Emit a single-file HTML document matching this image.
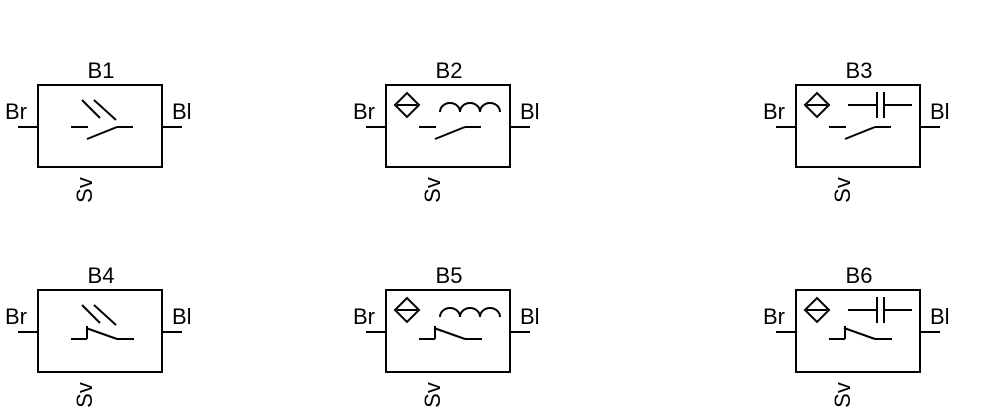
<!DOCTYPE html>
<html><head><meta charset="utf-8"><style>
html,body{margin:0;padding:0;background:#fff;}
svg{display:block;}
</style></head><body>
<svg width="988" height="417" viewBox="0 0 988 417" xmlns="http://www.w3.org/2000/svg" font-family="Liberation Sans, Arial, sans-serif" font-size="22">
<defs>
<g id="frame" fill="none" stroke="#000" stroke-width="2">
  <rect x="0" y="0" width="124" height="82"/>
  <line x1="-20" y1="42" x2="0" y2="42"/>
  <line x1="124" y1="42" x2="144" y2="42"/>
</g>
<g id="diamond" fill="none" stroke="#000" stroke-width="2">
  <polygon points="21,8 33,20 21,32 9,20"/>
  <line x1="11" y1="20" x2="31" y2="20"/>
</g>
<g id="sw1" fill="none" stroke="#000" stroke-width="2">
  <line x1="33" y1="42" x2="50" y2="42"/>
  <line x1="49" y1="54" x2="79" y2="42"/>
  <line x1="79" y1="42" x2="95" y2="42"/>
</g>
<g id="sw2" fill="none" stroke="#000" stroke-width="2">
  <line x1="33" y1="49" x2="49" y2="49"/>
  <line x1="49" y1="49" x2="49" y2="36"/>
  <line x1="48" y1="38" x2="79" y2="49"/>
  <line x1="79" y1="49" x2="96" y2="49"/>
</g>
<g id="slash" fill="none" stroke="#000" stroke-width="2">
  <line x1="44" y1="15" x2="62" y2="33"/>
  <line x1="56" y1="15" x2="78" y2="35"/>
</g>
<g id="coil" fill="none" stroke="#000" stroke-width="2">
  <path d="M54 27 A10 9 0 0 1 74 27 A10 9 0 0 1 94 27 A10 9 0 0 1 114 27"/>
</g>
<g id="cap" fill="none" stroke="#000" stroke-width="2">
  <line x1="52" y1="20" x2="81" y2="20"/>
  <line x1="81" y1="7" x2="81" y2="33"/>
  <line x1="88" y1="7" x2="88" y2="33"/>
  <line x1="88" y1="20" x2="116" y2="20"/>
</g>
</defs>

<g transform="translate(38,85)">
  <use href="#frame"/><use href="#sw1"/><use href="#slash"/>
  <text x="63" y="-7" text-anchor="middle">B1</text>
  <text x="-33" y="34">Br</text><text x="134" y="34">Bl</text>
  <text transform="translate(54,105) rotate(-90)" text-anchor="middle">Sv</text>
</g>
<g transform="translate(386,85)">
  <use href="#frame"/><use href="#sw1"/><use href="#diamond"/><use href="#coil"/>
  <text x="63" y="-7" text-anchor="middle">B2</text>
  <text x="-33" y="34">Br</text><text x="134" y="34">Bl</text>
  <text transform="translate(54,105) rotate(-90)" text-anchor="middle">Sv</text>
</g>
<g transform="translate(796,85)">
  <use href="#frame"/><use href="#sw1"/><use href="#diamond"/><use href="#cap"/>
  <text x="63" y="-7" text-anchor="middle">B3</text>
  <text x="-33" y="34">Br</text><text x="134" y="34">Bl</text>
  <text transform="translate(54,105) rotate(-90)" text-anchor="middle">Sv</text>
</g>

<g transform="translate(38,290)">
  <use href="#frame"/><use href="#sw2"/><use href="#slash"/>
  <text x="63" y="-7" text-anchor="middle">B4</text>
  <text x="-33" y="34">Br</text><text x="134" y="34">Bl</text>
  <text transform="translate(54,105) rotate(-90)" text-anchor="middle">Sv</text>
</g>
<g transform="translate(386,290)">
  <use href="#frame"/><use href="#sw2"/><use href="#diamond"/><use href="#coil"/>
  <text x="63" y="-7" text-anchor="middle">B5</text>
  <text x="-33" y="34">Br</text><text x="134" y="34">Bl</text>
  <text transform="translate(54,105) rotate(-90)" text-anchor="middle">Sv</text>
</g>
<g transform="translate(796,290)">
  <use href="#frame"/><use href="#sw2"/><use href="#diamond"/><use href="#cap"/>
  <text x="63" y="-7" text-anchor="middle">B6</text>
  <text x="-33" y="34">Br</text><text x="134" y="34">Bl</text>
  <text transform="translate(54,105) rotate(-90)" text-anchor="middle">Sv</text>
</g>
</svg>
</body></html>
